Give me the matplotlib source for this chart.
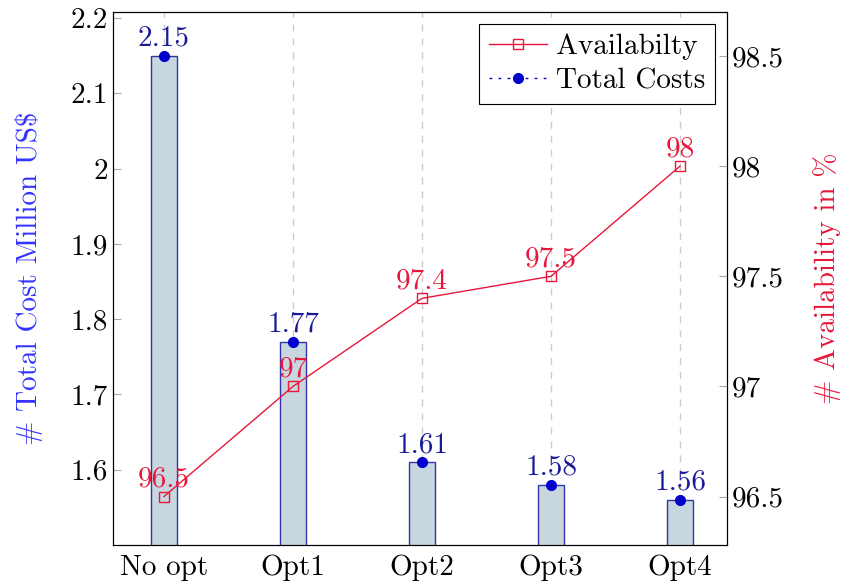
import numpy as np
import matplotlib.pyplot as plt
from matplotlib.lines import Line2D

plt.rcParams['font.family'] = 'cmr10'
plt.rcParams['mathtext.fontset'] = 'cm'
plt.rcParams['axes.formatter.use_mathtext'] = True

options = ["No opt", "Opt1", "Opt2", "Opt3", "Opt4"]
costs = [2.15, 1.77, 1.61, 1.58, 1.56]
availability = [96.5, 97.0, 97.4, 97.5, 98.0]
cost_labels = ["2.15", "1.77", "1.61", "1.58", "1.56"]
avail_labels = ["96.5", "97", "97.4", "97.5", "98"]

blue = '#0000cc'
red = '#e8173a'
fs = 21

fig = plt.figure(figsize=(8.46, 5.88), dpi=100)
ax = fig.add_axes([0.1336, 0.0731, 0.7257, 0.9065])
x = np.arange(len(options))

ax.bar(x, costs, width=0.2, color='#c8d6e0', edgecolor='#3333aa', linewidth=1, zorder=2)
ax.plot(x, costs, 'o', color=blue, markersize=7, zorder=3)
for xi, c, t in zip(x, costs, cost_labels):
    ax.annotate(t, (xi, c), xytext=(0, 3), textcoords='offset points',
                ha='center', va='bottom', color='#1a1a99', fontsize=fs, zorder=4)

ax.set_xlim(-0.395, 4.364)
ax.set_ylim(1.5, 2.208)
ax.set_yticks([1.6, 1.7, 1.8, 1.9, 2.0, 2.1, 2.2])
ax.set_yticklabels(["1.6", "1.7", "1.8", "1.9", "2", "2.1", "2.2"])
ax.set_xticks(x)
ax.set_xticklabels(options)
ax.tick_params(labelsize=fs, direction='in', color='#aaaaaa', length=6)
ax.tick_params(axis='x', length=0, pad=7)
ax.xaxis.grid(True, linestyle=(0, (5, 5)), color='#cccccc', linewidth=1)
ax.set_axisbelow(True)
ax.set_ylabel("# Total Cost Million US\\$", color='#3333ff', fontsize=fs, labelpad=20)

ax2 = ax.twinx()
ax2.plot(x, availability, '-s', color=red, markerfacecolor='none', markersize=7,
         linewidth=1, zorder=3)
for xi, a, t in zip(x, availability, avail_labels):
    ax2.annotate(t, (xi, a), xytext=(0, 3), textcoords='offset points',
                 ha='center', va='bottom', color=red, fontsize=fs)
ax2.set_ylim(96.28, 98.70)
ax2.set_yticks([96.5, 97, 97.5, 98, 98.5])
ax2.set_yticklabels(["96.5", "97", "97.5", "98", "98.5"])
ax2.tick_params(labelsize=fs, direction='in', color='#aaaaaa', length=6)
ax2.set_ylabel("# Availability in %", color=red, fontsize=fs, labelpad=21)

handles = [Line2D([], [], color=red, marker='s', markerfacecolor='none', markersize=7, linewidth=1),
           Line2D([], [], color=blue, marker='o', markersize=7, linestyle=(0, (2, 4.5)), linewidth=1)]
leg = ax2.legend(handles, ["Availabilty", "Total Costs"], loc='upper right', fontsize=fs,
                 frameon=True, fancybox=False, edgecolor='black', framealpha=1,
                 borderaxespad=0.4, handlelength=2.0, handletextpad=0.3, labelspacing=0.25,
                 borderpad=0.35)
leg.get_frame().set_linewidth(0.8)

fig.savefig('out.png', dpi=100)
